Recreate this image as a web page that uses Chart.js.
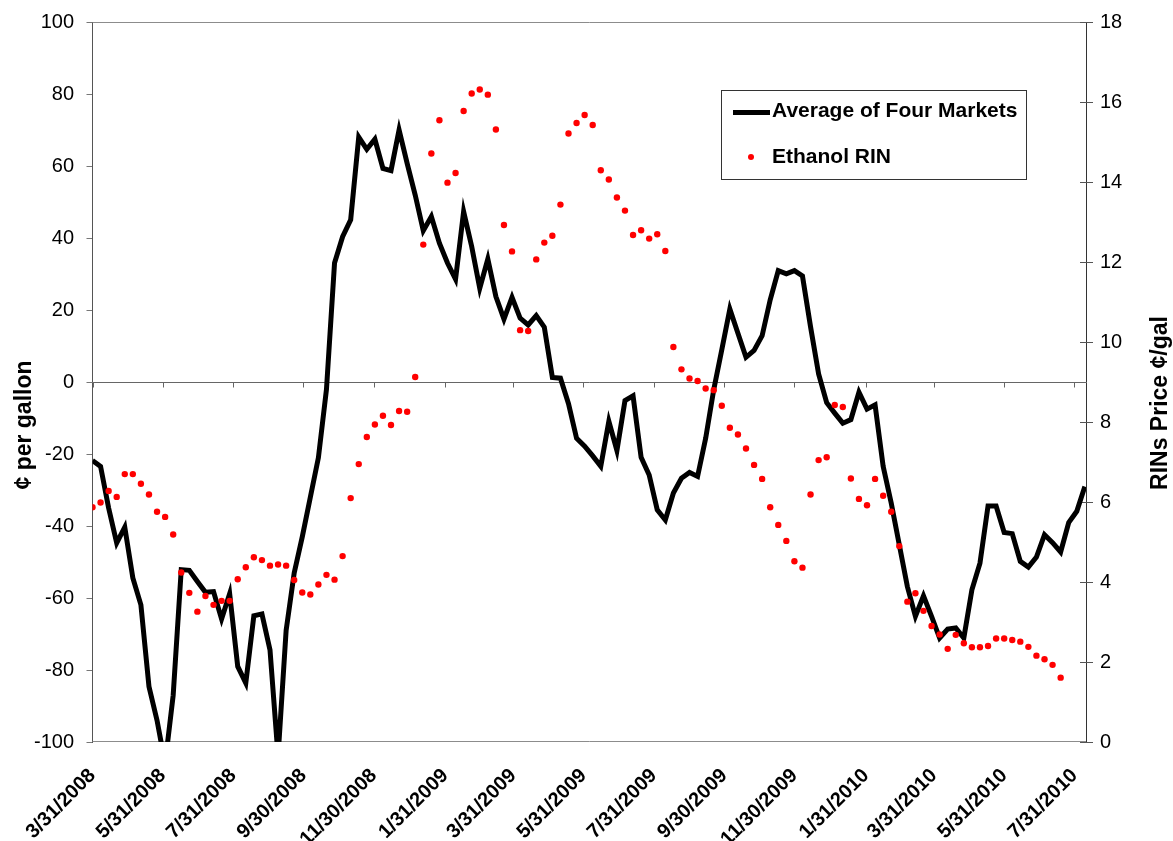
<!DOCTYPE html>
<html>
<head>
<meta charset="utf-8">
<script src="https://cdn.jsdelivr.net/npm/chart.js@4.4.1/dist/chart.umd.min.js"></script>
<style>
  html, body { margin: 0; padding: 0; background: #ffffff; }
  #wrap { width: 1173px; height: 841px; position: relative; }
</style>
</head>
<body>
<div id="wrap"><canvas id="c"></canvas></div>
<script>
// ---------------- DATA ----------------
const seriesStart = '3/31/2008';       // first weekly observation
const weekStepDays = 7;                // weekly observations

const dateTickLabels = ['3/31/2008','5/31/2008','7/31/2008','9/30/2008','11/30/2008',
  '1/31/2009','3/31/2009','5/31/2009','7/31/2009','9/30/2009','11/30/2009',
  '1/31/2010','3/31/2010','5/31/2010','7/31/2010'];

const seriesNames = ['Average of Four Markets', 'Ethanol RIN'];
const leftAxisTitle = '¢ per gallon';
const rightAxisTitle = 'RINs Price ¢/gal';

// Average of Four Markets (¢ per gallon), weekly
const avgFourMarkets = [
  -21.8, -23.4, -35, -44.7, -40.3, -54.4, -61.9, -84.6, -94, -106,
  -87, -52.1, -52.3, -55.4, -58.4, -58.2, -65.8, -58.8, -79.0, -83.6,
  -64.9, -64.4, -74.4, -104, -69, -53, -43, -32, -21, -2,
  33.1, 40.4, 45.1, 68.1, 64.7, 67.5, 59.4, 58.8, 70.1, 60.8,
  52.0, 42.1, 46.0, 38.6, 33.1, 28.6, 47.4, 37.7, 26.1, 34.2,
  23.8, 17.5, 23.6, 17.8, 15.9, 18.5, 15.3, 1.3, 1.1, -6,
  -15.6, -17.8, -20.5, -23.4, -10.9, -19.0, -5.1, -3.8, -20.9, -25.8,
  -35.5, -38.3, -30.8, -26.7, -25.1, -26.2, -15.6, -2.1, 9, 20.3,
  13.6, 6.9, 8.8, 12.9, 22.9, 31.0, 30.1, 31.0, 29.5, 15.4,
  2.3, -5.7, -8.6, -11.4, -10.4, -2.8, -7.5, -6.3, -23.4, -33.6,
  -45.2, -56.8, -65.1, -59.4, -65.1, -71.1, -68.6, -68.3, -71.1, -57.7,
  -50.3, -34.4, -34.4, -41.8, -42.1, -49.8, -51.4, -48.6, -42.4, -44.6,
  -47.2, -39.0, -35.9, -29.0
];

// Ethanol RIN price (¢/gal), weekly
const ethanolRIN = [
  5.87, 5.99, 6.28, 6.13, 6.70, 6.70, 6.46, 6.19, 5.76, 5.63,
  5.19, 4.24, 3.73, 3.26, 3.65, 3.43, 3.53, 3.53, 4.07, 4.37,
  4.62, 4.55, 4.41, 4.44, 4.41, 4.05, 3.74, 3.69, 3.94, 4.18,
  4.06, 4.65, 6.10, 6.95, 7.63, 7.94, 8.16, 7.93, 8.28, 8.26,
  9.13, 12.44, 14.72, 15.55, 13.99, 14.23, 15.78, 16.22, 16.32, 16.19,
  15.32, 12.93, 12.27, 10.30, 10.28, 12.07, 12.49, 12.66, 13.44, 15.22,
  15.48, 15.68, 15.43, 14.30, 14.07, 13.62, 13.29, 12.68, 12.80, 12.59,
  12.70, 12.28, 9.88, 9.32, 9.09, 9.03, 8.84, 8.80, 8.41, 7.86,
  7.69, 7.34, 6.93, 6.58, 5.87, 5.43, 5.03, 4.52, 4.36, 6.19,
  7.05, 7.12, 8.43, 8.38, 6.59, 6.08, 5.92, 6.58, 6.16, 5.76,
  4.90, 3.51, 3.72, 3.28, 2.90, 2.69, 2.33, 2.68, 2.47, 2.37,
  2.37, 2.40, 2.59, 2.59, 2.55, 2.51, 2.38, 2.16, 2.07, 1.93,
  1.61
];

const leftAxisRange = [-100, 100, 20];
const rightAxisRange = [0, 18, 2];
const xAxisEndDays = 862;

// ---------------- HELPERS ----------------
function parseMDY(s) { const [m, d, y] = s.split('/').map(Number); return Date.UTC(y, m - 1, d); }
const t0 = parseMDY(seriesStart);
function dayOffset(s) { return Math.round((parseMDY(s) - t0) / 86400000); }

const avgPoints = avgFourMarkets.map((v, i) => ({ x: i * weekStepDays, y: v }));
const rinPoints = ethanolRIN.map((v, i) => ({ x: i * weekStepDays, y: v }));
const tickDays = dateTickLabels.map(dayOffset);

const FONT = "'Liberation Sans', Arial, Helvetica, sans-serif";

const CA = { left: 92.5, right: 1086, top: 22.3, bottom: 742 };
const W = 1173, H = 841;

const extras = {
  id: 'extras',
  beforeDatasetsDraw(chart) {
    const { ctx, chartArea: a, scales } = chart;
    const y0 = Math.round(scales.y.getPixelForValue(0)) + 0.5;
    ctx.save();
    ctx.lineWidth = 1;
    ctx.strokeStyle = '#8c8c8c';
    ctx.beginPath();
    ctx.moveTo(a.left, Math.round(a.top) + 0.5); ctx.lineTo(a.right, Math.round(a.top) + 0.5);
    ctx.moveTo(a.left, Math.round(a.bottom) - 0.5); ctx.lineTo(a.right, Math.round(a.bottom) - 0.5);
    ctx.stroke();
    ctx.strokeStyle = '#666666';
    ctx.beginPath();
    ctx.moveTo(a.left, y0); ctx.lineTo(a.right, y0);
    scales.x.ticks.forEach(t => {
      const px = Math.round(scales.x.getPixelForValue(t.value)) + 0.5;
      ctx.moveTo(px, y0); ctx.lineTo(px, y0 + 5);
    });
    ctx.stroke();
    ctx.strokeStyle = '#555555';
    ctx.beginPath();
    scales.y2.ticks.forEach(t => {
      const py = Math.round(scales.y2.getPixelForValue(t.value)) + 0.5;
      ctx.moveTo(a.right - 6, py); ctx.lineTo(a.right + 7, py);
    });
    ctx.stroke();
    ctx.restore();
  },
  afterDraw(chart) {
    const { ctx } = chart;
    ctx.save();
    // axis titles (both read bottom-to-top)
    ctx.fillStyle = '#000';
    ctx.font = `bold 23px ${FONT}`;
    ctx.textAlign = 'center';
    ctx.textBaseline = 'alphabetic';
    ctx.translate(31, 425); ctx.rotate(-Math.PI / 2);
    ctx.fillText(leftAxisTitle, 0, 0);
    ctx.restore();
    ctx.save();
    ctx.fillStyle = '#000';
    ctx.font = `bold 23px ${FONT}`;
    ctx.textAlign = 'center';
    ctx.textBaseline = 'alphabetic';
    ctx.translate(1167, 403); ctx.rotate(-Math.PI / 2);
    ctx.fillText(rightAxisTitle, 0, 0);
    ctx.restore();

    // legend
    ctx.save();
    ctx.fillStyle = '#fff';
    ctx.fillRect(721.5, 90.5, 305, 89);
    ctx.strokeStyle = '#333';
    ctx.lineWidth = 1;
    ctx.strokeRect(721.5, 90.5, 305, 89);
    const dsLine = chart.data.datasets[1];
    const dsDots = chart.data.datasets[0];
    ctx.strokeStyle = dsLine.borderColor;
    ctx.lineWidth = 5;
    ctx.beginPath(); ctx.moveTo(733, 112.5); ctx.lineTo(770, 112.5); ctx.stroke();
    ctx.fillStyle = dsDots.backgroundColor;
    ctx.beginPath(); ctx.arc(751, 157, 3, 0, Math.PI * 2); ctx.fill();
    ctx.fillStyle = '#000';
    ctx.font = `bold 21px ${FONT}`;
    ctx.textAlign = 'left';
    ctx.textBaseline = 'alphabetic';
    ctx.fillText(dsLine.label, 772, 117);
    ctx.fillText(dsDots.label, 772, 163);
    ctx.restore();
  }
};

new Chart(document.getElementById('c'), {
  data: {
    datasets: [
      {
        type: 'scatter',
        label: seriesNames[1],
        data: rinPoints,
        yAxisID: 'y2',
        showLine: false,
        pointRadius: 3.2,
        pointHoverRadius: 3.2,
        pointBorderWidth: 0,
        backgroundColor: '#ff0000',
        borderColor: '#ff0000',
        clip: 0
      },
      {
        type: 'line',
        label: seriesNames[0],
        data: avgPoints,
        yAxisID: 'y',
        borderColor: '#000000',
        backgroundColor: '#000000',
        borderWidth: 5,
        pointRadius: 0,
        tension: 0,
        borderJoinStyle: 'miter',
        clip: 0
      }
    ]
  },
  options: {
    responsive: true,
    maintainAspectRatio: false,
    animation: false,
    devicePixelRatio: 1,
    layout: { padding: { top: CA.top, left: 0, right: 0, bottom: 0 } },
    plugins: { legend: { display: false }, tooltip: { enabled: false } },
    scales: {
      x: {
        type: 'linear',
        position: 'bottom',
        min: 0,
        max: xAxisEndDays,
        afterBuildTicks: s => { s.ticks = tickDays.map(v => ({ value: v })); },
        afterFit: s => { s.height = H - CA.bottom; s.paddingLeft = 0; s.paddingRight = 0; },
        grid: { display: false, drawTicks: false },
        border: { display: false },
        ticks: {
          autoSkip: false,
          minRotation: 45,
          maxRotation: 45,
          padding: 22,
          color: '#000',
          font: { family: FONT, size: 20, weight: 'bold' },
          callback: (v, i) => dateTickLabels[i]
        }
      },
      y: {
        position: 'left',
        min: leftAxisRange[0], max: leftAxisRange[1],
        afterFit: s => { s.width = CA.left; s.paddingTop = 0; s.paddingBottom = 0; },
        grid: { drawOnChartArea: false, drawTicks: true, tickLength: 6, color: '#777' },
        border: { display: true, color: '#555', width: 1 },
        ticks: { stepSize: leftAxisRange[2], padding: 12.5, color: '#000', font: { family: FONT, size: 20 } }
      },
      y2: {
        position: 'right',
        min: rightAxisRange[0], max: rightAxisRange[1],
        afterFit: s => { s.width = W - CA.right; s.paddingTop = 0; s.paddingBottom = 0; },
        grid: { drawOnChartArea: false, drawTicks: false, tickLength: 0 },
        border: { display: true, color: '#333', width: 1 },
        ticks: { stepSize: rightAxisRange[2], padding: 14, color: '#000', font: { family: FONT, size: 20 } }
      }
    }
  },
  plugins: [extras]
});
</script>
</body>
</html>
